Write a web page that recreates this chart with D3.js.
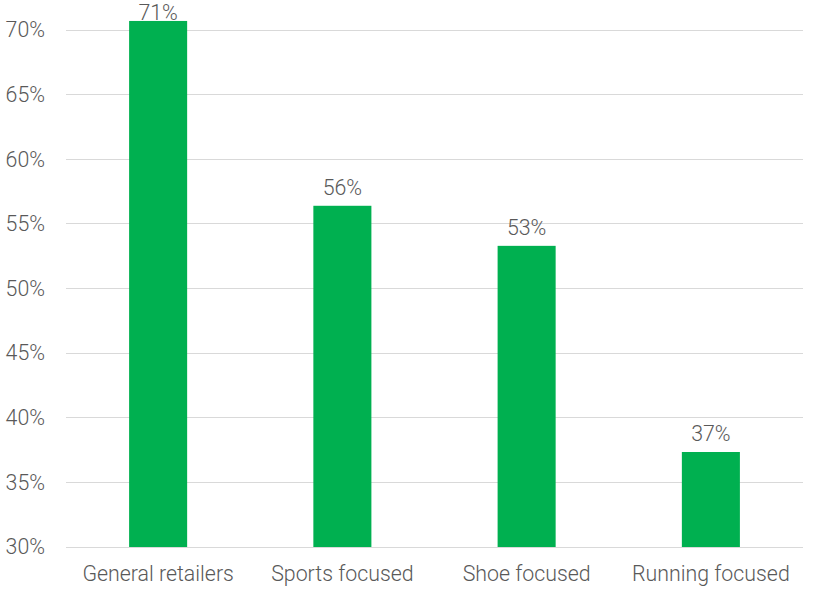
<!DOCTYPE html>
<html><head><meta charset="utf-8">
<script src="https://cdn.jsdelivr.net/npm/d3@7"></script>
<style>body{margin:0;background:#fff}svg{display:block}text{font-family:Roboto,sans-serif;font-weight:300;fill:#595959}</style>
</head><body>
<svg id="c" width="817" height="593"></svg>
<script>
const categories = ["General retailers","Sports focused","Shoe focused","Running focused"];
const values = [70.7, 56.4, 53.3, 37.35];
const labels = ["71%","56%","53%","37%"];
const yTicks = [30,35,40,45,50,55,60,65,70];

(function(){
const svg = d3.select("#c");
const mLeft = 66, mRight = 803, mTop = 30, mBottom = 547;
const fs = "21.33px";
const x = d3.scaleBand().domain(categories).range([mLeft, mRight]).paddingInner(0.685).paddingOuter(0.3425);
const y = d3.scaleLinear().domain([30,70]).range([mBottom, mTop]);

const grid = svg.append("g");
grid.selectAll("line").data(yTicks).join("line")
  .attr("x1", mLeft).attr("x2", mRight)
  .attr("y1", d => y(d)).attr("y2", d => y(d))
  .attr("stroke", "#d9d9d9").attr("stroke-width", 1).attr("shape-rendering","crispEdges");

const yAxis = svg.append("g").attr("transform", `translate(${mLeft},0)`)
  .call(d3.axisLeft(y).tickValues(yTicks).tickFormat(d => d + "%").tickSize(0).tickPadding(21));
yAxis.select(".domain").remove();
yAxis.selectAll("text").style("font-size",fs).style("font-family","Roboto").style("font-weight","300").attr("fill","#595959");

svg.append("g").selectAll("rect").data(values).join("rect")
  .attr("x", (d,i) => x(categories[i])).attr("width", x.bandwidth())
  .attr("y", d => y(d)).attr("height", d => mBottom - y(d))
  .attr("fill", "#00B050");

svg.append("g").selectAll("text").data(values).join("text")
  .attr("x", (d,i) => x(categories[i]) + x.bandwidth()/2)
  .attr("y", d => Math.max(y(d) - 11, 20))
  .attr("text-anchor","middle").style("font-size",fs)
  .text((d,i) => labels[i]);

const xAxis = svg.append("g").attr("transform", `translate(0,${mBottom})`)
  .call(d3.axisBottom(x).tickSize(0).tickPadding(19));
xAxis.select(".domain").remove();
xAxis.selectAll("text").style("font-size",fs).style("font-family","Roboto").style("font-weight","300").attr("fill","#595959");
})();
</script>
</body></html>
